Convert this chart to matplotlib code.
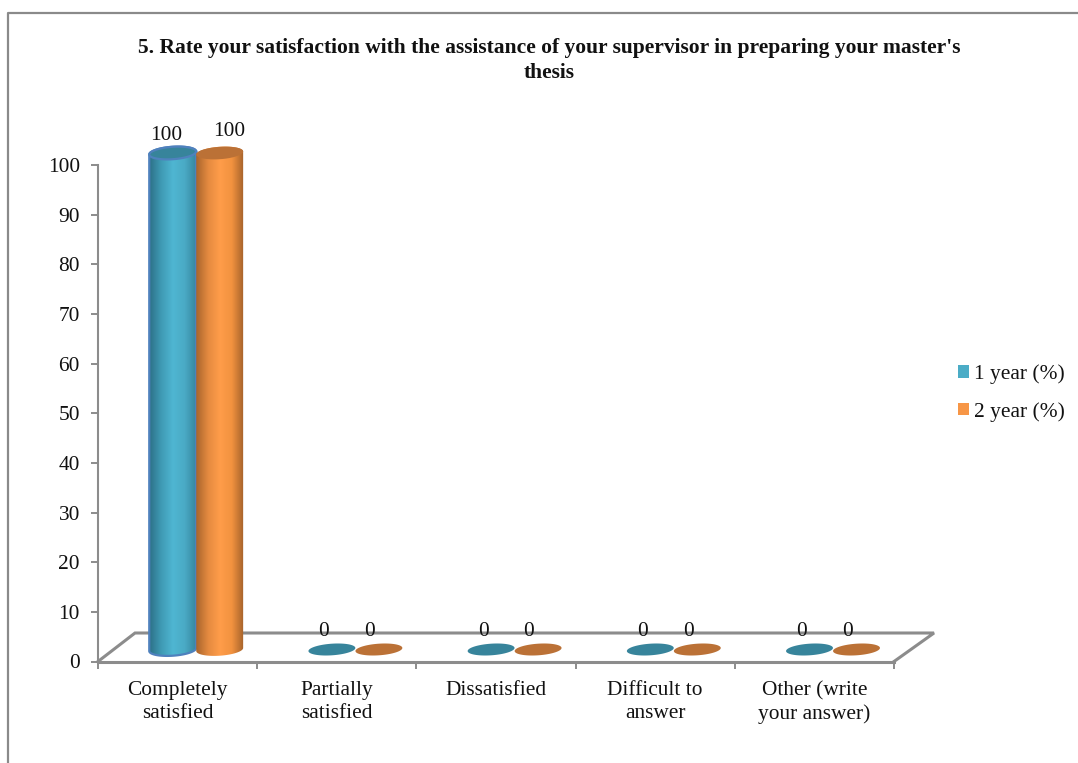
import numpy as np
import matplotlib
matplotlib.use("Agg")
import matplotlib.pyplot as plt
from matplotlib.colors import LinearSegmentedColormap
from matplotlib.lines import Line2D
from matplotlib.patches import Patch, Polygon

title = "5. Rate your satisfaction with the assistance of your supervisor in preparing your master's\nthesis"
categories = ["Completely\nsatisfied", "Partially\nsatisfied", "Dissatisfied",
              "Difficult to\nanswer", "Other (write\nyour answer)"]
series_names = ["1 year (%)", "2 year (%)"]
year1 = [100, 0, 0, 0, 0]
year2 = [100, 0, 0, 0, 0]
y_ticks = list(range(0, 101, 10))

W, H = 1078, 763
plt.rcParams["font.family"] = ["Liberation Serif", "DejaVu Serif"]
FS = 15.4
GRAY = "#8c8c8c"

fig = plt.figure(figsize=(W / 100, H / 100), dpi=100, facecolor="white")
L, R, T, B = 98, 894, 165, 661.5
ax = fig.add_axes([L / W, 1 - B / H, (R - L) / W, (B - T) / H])
n = len(categories)
sx = (R - L) / n          # px per category
sy = (B - T) / 100        # px per value unit

# page border
fig.add_artist(Line2D([1, 8 / W, 8 / W], [1 - 12.5 / H, 1 - 12.5 / H, 0],
                      transform=fig.transFigure, color="#8a8a8a", lw=1.6))

# floor of the 3D plot
DEPTH_XL, DEPTH_XR, DEPTH_Y = 37 / sx, 40 / sx, 28.5 / sy
ax.plot([0, DEPTH_XL, n + DEPTH_XR, n], [0, DEPTH_Y, DEPTH_Y, 0], color=GRAY, lw=2.2,
        clip_on=False, zorder=1, solid_joinstyle="miter")

SHIFT_X, SHIFT_Y = 18.6 / sx, 12 / sy
BAR_W = 47 / sx
TILT = np.radians(4)


def ellipse(cx, cy, t, b):
    """Tilted ellipse outline, computed in pixels around a data-space centre."""
    a = BAR_W * sx / 2
    px = a * np.cos(t) * np.cos(TILT) - b * np.sin(t) * np.sin(TILT)
    py = a * np.cos(t) * np.sin(TILT) + b * np.sin(t) * np.cos(TILT)
    return np.column_stack([cx + px / sx, cy + py / sy])


styles = [
    dict(cmap=LinearSegmentedColormap.from_list("b", ["#2c6f86", "#3f9ab4", "#4fb6d2", "#4aaac5", "#35849c"]),
         top="#37849b", edge="#4f81bd", elw=1.6),
    dict(cmap=LinearSegmentedColormap.from_list("o", ["#a8642c", "#e48a40", "#ff9d4a", "#f2923f", "#a5622b"]),
         top="#bb7136", edge="none", elw=0),
]
label_dx = [-13, 33]

grad = np.linspace(0, 1, 128)[None, :]
for j, vals in enumerate([year1, year2]):
    st = styles[j]
    for i, v in enumerate(vals):
        cx = i + 0.5 + (j - 0.5) * BAR_W + SHIFT_X
        base = SHIFT_Y
        top = v + SHIFT_Y
        z = 3 + j
        b = 6.2 if v > 0 else 5.8
        if v > 0:
            low = ellipse(cx, base, np.linspace(np.pi, 2 * np.pi, 60), b)
            up = ellipse(cx, top, np.linspace(0, np.pi, 60), b)
            poly = Polygon(np.vstack([low, up]), closed=True, transform=ax.transData,
                           facecolor="none", edgecolor=st["edge"], lw=st["elw"],
                           zorder=z + 0.2, clip_on=False)
            ax.add_patch(poly)
            im = ax.imshow(grad, extent=[cx - BAR_W / 2, cx + BAR_W / 2, base - 3, top + 3],
                           aspect="auto", cmap=st["cmap"], zorder=z, origin="lower",
                           interpolation="bilinear")
            im.set_clip_box(fig.bbox)
            im.set_clip_path(poly)
        outline = ellipse(cx, top, np.linspace(0, 2 * np.pi, 120), b)
        ax.fill(*outline.T, color=st["top"], zorder=z + 0.3, clip_on=False, lw=0)
        if v > 0 and st["elw"]:
            ax.plot(*outline.T, color=st["edge"], lw=st["elw"], zorder=z + 0.4, clip_on=False)
        # data labels
        dx, dy = label_dx[j], 30
        if v > 0:
            dx, dy = (-11.5, 30) if j == 0 else (51.5, 33.5)
        ax.annotate(str(v), (i + 0.5, v), xytext=(dx, dy), textcoords="offset pixels",
                    ha="center", va="center", fontsize=FS, color="#111111",
                    zorder=6, annotation_clip=False)

ax.set_xlim(0, n)
ax.set_ylim(0, 100)
for s in ("top", "right"):
    ax.spines[s].set_visible(False)
for s in ("left", "bottom"):
    ax.spines[s].set_color(GRAY)
ax.spines["left"].set_linewidth(1.5)
ax.spines["bottom"].set_linewidth(2.2)
ax.set_yticks(y_ticks)
ax.set_xticks(np.arange(n + 1))
ax.set_xticklabels([])
ax.set_xticks(np.arange(n) + 0.5, categories, minor=True)
ax.tick_params(axis="x", which="major", length=5, width=1.4, color=GRAY)
ax.tick_params(axis="x", which="minor", length=0, pad=14, labelsize=FS, labelcolor="#111111")
ax.tick_params(axis="y", length=5, width=1.4, color=GRAY, pad=8, labelsize=FS, labelcolor="#111111")
ax.patch.set_alpha(0)
for lab in ax.get_xticklabels(minor=True):
    lab.set_linespacing(1.27)

fig.text(549 / W, 1 - 60.5 / H, title, ha="center", va="center", fontsize=15.45,
         fontweight="bold", color="#111111", linespacing=1.3)

legend_handles = [Patch(facecolor="#4bacc6"), Patch(facecolor="#f79646")]
fig.legend(legend_handles, series_names, loc="center left",
           bbox_to_anchor=(958 / W, 1 - 393 / H), frameon=False, fontsize=FS,
           handlelength=0.52, handleheight=0.52, handletextpad=0.24,
           labelspacing=0.83, borderpad=0, borderaxespad=0, labelcolor="#111111")

fig.savefig("out.png", dpi=100, facecolor="white")
